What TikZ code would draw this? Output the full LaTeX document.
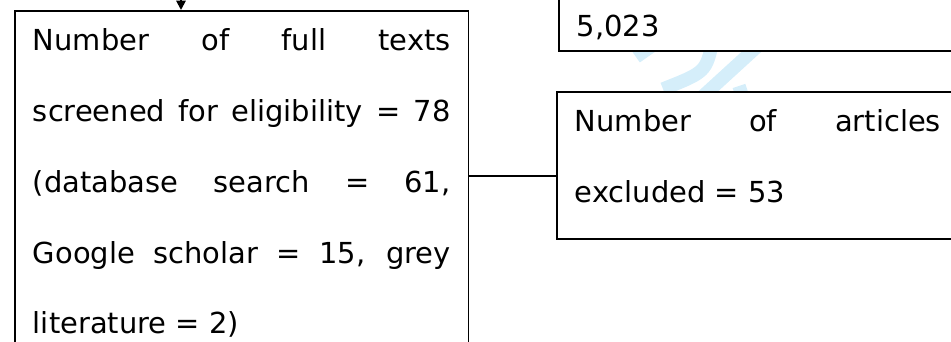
\documentclass[tikz,border=0pt]{standalone}
\usepackage{fontspec}
\setmainfont{DejaVu Sans}
\usetikzlibrary{positioning,arrows.meta}
\definecolor{wmblue}{RGB}{213,238,250}
\hbadness=10000

\begin{document}
\begin{tikzpicture}[x=0.75pt,y=-0.75pt,
    font={\fontsize{21.7}{53.06}\selectfont},
    line width=1.4pt,
    box/.style={draw, fill=white, inner sep=13.5pt, align=justify},
    wm/.style={wmblue, line width=10pt}]

\useasboundingbox (0,0) rectangle (951,342);
\clip (0,0) rectangle (951,342);

% watermark strokes between the two right boxes
\begin{scope}
\clip (470,50) rectangle (951,92);
\draw[wm] (636,57) -- (686,22);
\draw[wm] (713,40) .. controls (706,72) .. (663,89);
\draw[wm] (760,44) -- (702,97);
\draw[wm] (739,86) -- (747,110);
\end{scope}

\node[box,
    text width=313.2pt,
    anchor=north west
] (fulltext) at (14,10) { Number of full texts\linebreak screened for eligibility = 78\linebreak (database search = 61,\linebreak Google scholar = 15, grey\linebreak literature = 2) };

\node[box,
    text width=274.5pt,
    anchor=north west
] (excluded) at (556,91) { Number of articles\linebreak excluded = 53\rule[-14pt]{0pt}{14pt} };

\node[box,
    text width=274.5pt,
    align=left,
    inner ysep=8.75pt,
    above=29pt of excluded.north west,
    anchor=south west,
    xshift=1.5pt
] (records) { \rule{0pt}{60pt}5,023 };

\coordinate (prev) at (181,-30);
\draw[-{Triangle[width=7pt,length=7pt]}] (prev) -- (prev |- fulltext.north);

\draw (fulltext.east |- 0,176) -- (excluded.west |- 0,176);

\end{tikzpicture}
\end{document}
